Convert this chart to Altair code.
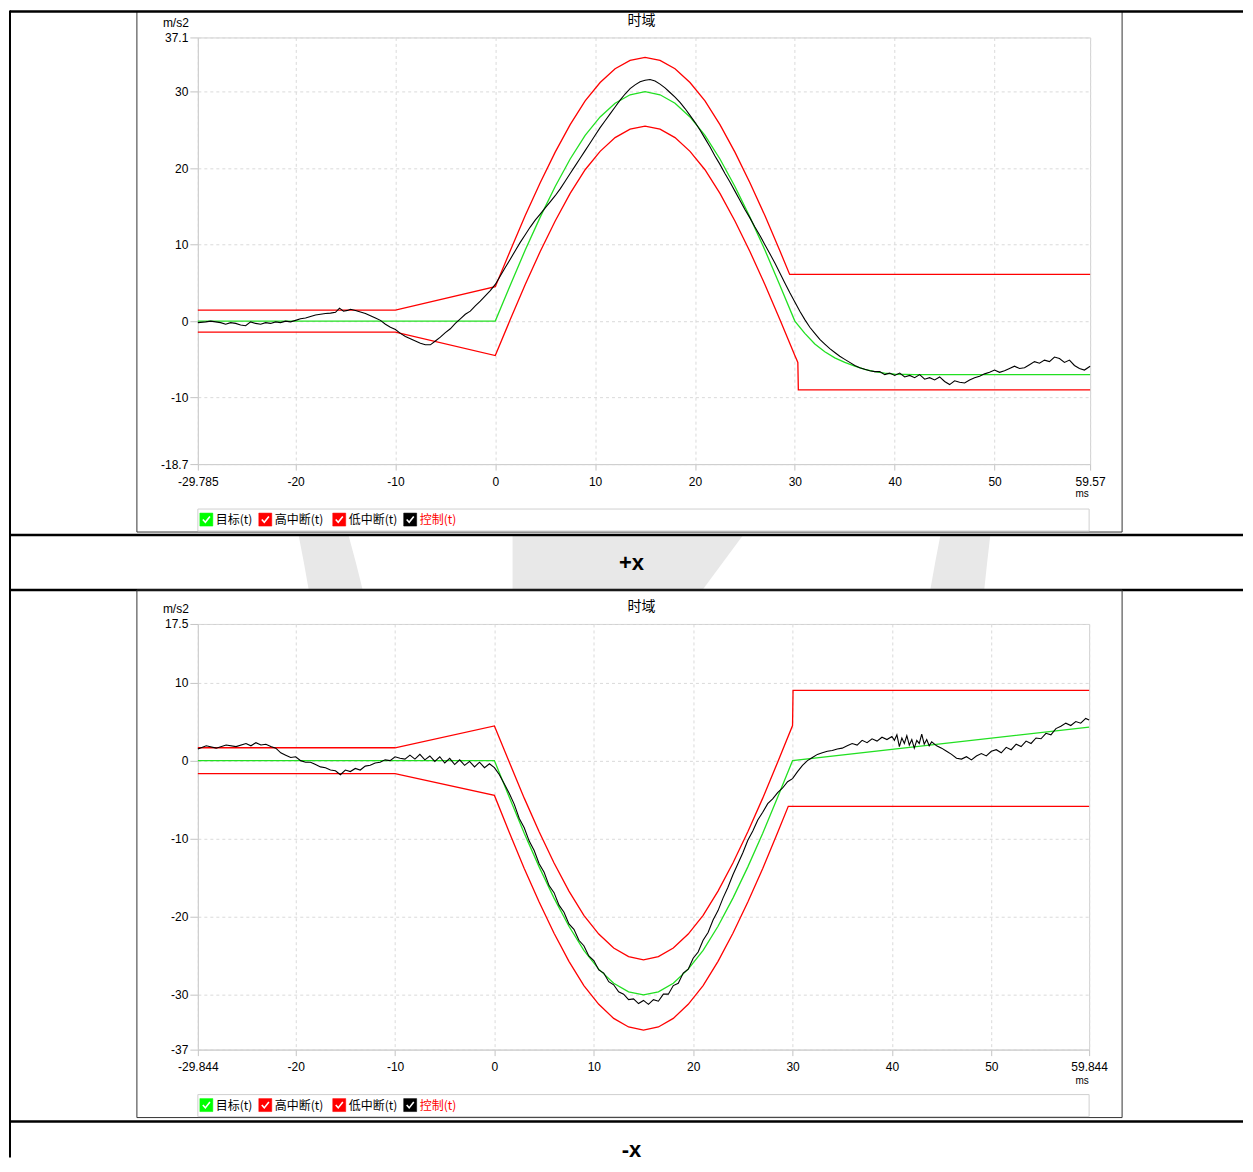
import altair as alt
import pandas as pd

# ------------------------------------------------------------------ data
# +x  (t in ms, value in m/s2)
pos_target = [(-29.785, 0), (0, 0), (1.5, 4.7), (3, 9.3), (4.5, 13.6), (6, 17.6), (7.5, 21.2),
              (9, 24.3), (10.5, 26.7), (12, 28.5), (13.5, 29.6), (15, 30.0), (16.5, 29.6),
              (18, 28.5), (19.5, 26.7), (21, 24.3), (22.5, 21.2), (24, 17.6), (25.5, 13.6),
              (27, 9.3), (28.5, 4.7), (30, 0), (31, -1.6), (32, -3.0), (33, -4.0), (34, -4.8),
              (35, -5.4), (36, -5.9), (37, -6.3), (38, -6.6), (39, -6.8), (40, -6.95),
              (42, -7.0), (59.57, -7.0)]
pos_high = [(-29.785, 1.45), (-10, 1.45), (0, 4.5), (1.5, 9.2), (3, 13.8), (4.5, 18.1), (6, 22.1),
            (7.5, 25.7), (9, 28.8), (10.5, 31.2), (12, 33.0), (13.5, 34.1), (15, 34.5),
            (16.5, 34.1), (18, 33.0), (19.5, 31.2), (21, 28.8), (22.5, 25.7), (24, 22.1),
            (25.5, 18.1), (27, 13.8), (28.5, 9.2), (29.48, 6.1), (59.57, 6.1)]
pos_low = [(-29.785, -1.45), (-10, -1.45), (0, -4.5), (1.5, 0.2), (3, 4.8), (4.5, 9.1), (6, 13.1),
           (7.5, 16.7), (9, 19.8), (10.5, 22.2), (12, 24.0), (13.5, 25.1), (15, 25.5),
           (16.5, 25.1), (18, 24.0), (19.5, 22.2), (21, 19.8), (22.5, 16.7), (24, 13.1),
           (25.5, 9.1), (27, 4.8), (28.5, 0.2), (30, -4.5), (30.3, -5.4), (30.35, -9.0),
           (59.57, -9.0)]
pos_ctrl = [(-29.785, -0.2), (-29, -0.1), (-28.5, 0.0), (-28, -0.1), (-27.5, -0.2), (-27, -0.4),
            (-26.5, -0.2), (-26, -0.3), (-25.5, -0.5), (-25, -0.6), (-24.5, -0.1), (-24, -0.3),
            (-23.5, -0.4), (-23, -0.2), (-22.5, -0.3), (-22, -0.1), (-21.5, -0.2), (-21, 0.0),
            (-20.5, -0.1), (-20, 0.1), (-19.5, 0.3), (-19, 0.4), (-18.5, 0.6), (-18, 0.8),
            (-17.5, 0.9), (-17, 1.0), (-16.5, 1.05), (-16, 1.15), (-15.6, 1.7), (-15.2, 1.3),
            (-14.8, 1.4), (-14.5, 1.55), (-14, 1.4), (-13.5, 1.2), (-13, 1.0), (-12.5, 0.7),
            (-12, 0.4), (-11.5, 0.1), (-11, -0.4), (-10.5, -0.8), (-10, -1.1), (-9.5, -1.6),
            (-9, -2.0), (-8.5, -2.3), (-8, -2.6), (-7.5, -2.9), (-7, -3.1), (-6.5, -3.1),
            (-6, -2.6), (-5.5, -2.1), (-5, -1.5), (-4.5, -1.0), (-4, -0.3), (-3.5, 0.3),
            (-3, 0.9), (-2.5, 1.3), (-2, 2.0), (-1.5, 2.6), (-1, 3.3), (-0.5, 4.0), (0, 4.8),
            (0.5, 5.9), (1, 7.0), (1.5, 8.1), (2, 9.2), (2.5, 10.3), (3, 11.3), (3.5, 12.3),
            (4, 13.2), (4.5, 14.0), (5, 14.8), (5.5, 15.6), (6, 16.4), (6.5, 17.3), (7, 18.3),
            (7.5, 19.3), (8, 20.3), (8.5, 21.3), (9, 22.3), (9.5, 23.3), (10, 24.3), (10.5, 25.3),
            (11, 26.2), (11.5, 27.1), (12, 28.0), (12.5, 28.9), (13, 29.7), (13.5, 30.4),
            (14, 30.9), (14.5, 31.3), (15, 31.5), (15.5, 31.6), (16, 31.4), (16.5, 31.0),
            (17, 30.5), (17.5, 29.9), (18, 29.3), (18.5, 28.6), (19, 27.8), (19.5, 26.9),
            (20, 26.0), (20.5, 25.0), (21, 23.9), (21.5, 22.8), (22, 21.6), (22.5, 20.5),
            (23, 19.3), (23.5, 18.2), (24, 17.0), (24.5, 15.8), (25, 14.6), (25.5, 13.5),
            (26, 12.3), (26.5, 11.2), (27, 10.0), (27.5, 8.8), (28, 7.6), (28.5, 6.3), (29, 5.0),
            (29.5, 3.7), (30, 2.5), (30.5, 1.3), (31, 0.2), (31.5, -0.8), (32, -1.6), (32.5, -2.4),
            (33, -3.0), (33.5, -3.6), (34, -4.1), (34.5, -4.6), (35, -5.0), (35.5, -5.4),
            (36, -5.8), (36.5, -6.1), (37, -6.3), (37.5, -6.5), (38, -6.6), (38.5, -6.6),
            (39, -7.0), (39.5, -6.8), (40, -7.1), (40.5, -6.8), (41, -7.3), (41.5, -7.1),
            (42, -7.4), (42.5, -7.0), (43, -7.6), (43.5, -7.4), (44, -7.7), (44.5, -7.3),
            (45, -7.9), (45.5, -8.3), (46, -7.8), (46.5, -8.0), (47, -8.1), (47.5, -7.7),
            (48, -7.4), (48.5, -7.2), (49, -6.9), (49.5, -6.7), (50, -6.4), (50.5, -6.7),
            (51, -6.5), (51.5, -6.2), (52, -5.9), (52.5, -6.2), (53, -6.1), (53.5, -5.7),
            (54, -5.3), (54.5, -5.5), (55, -5.1), (55.5, -5.3), (56, -4.7), (56.5, -4.9),
            (57, -5.4), (57.5, -5.1), (58, -5.8), (58.5, -6.2), (59, -6.4), (59.57, -5.9)]

# -x
neg_target = [(-29.844, 0), (0, 0), (1.5, -4.7), (3, -9.3), (4.5, -13.6), (6, -17.6), (7.5, -21.2),
              (9, -24.3), (10.5, -26.7), (12, -28.5), (13.5, -29.6), (15, -30.0), (16.5, -29.6),
              (18, -28.5), (19.5, -26.7), (21, -24.3), (22.5, -21.2), (24, -17.6), (25.5, -13.6),
              (27, -9.3), (28.5, -4.7), (30, 0), (59.844, 4.3)]
neg_high = [(-29.844, 1.65), (-10, 1.65), (0, 4.45), (1.5, -0.2), (3, -4.8), (4.5, -9.1), (6, -13.1),
            (7.5, -16.7), (9, -19.8), (10.5, -22.2), (12, -24.0), (13.5, -25.1), (15, -25.5),
            (16.5, -25.1), (18, -24.0), (19.5, -22.2), (21, -19.8), (22.5, -16.7), (24, -13.1),
            (25.5, -9.1), (27, -4.8), (28.5, -0.2), (30, 4.5), (30.05, 9.0), (59.844, 9.0)]
neg_low = [(-29.844, -1.65), (-10, -1.65), (0, -4.45), (1.5, -9.2), (3, -13.8), (4.5, -18.1),
           (6, -22.1), (7.5, -25.7), (9, -28.8), (10.5, -31.2), (12, -33.0), (13.5, -34.1),
           (15, -34.5), (16.5, -34.1), (18, -33.0), (19.5, -31.2), (21, -28.8), (22.5, -25.7),
           (24, -22.1), (25.5, -18.1), (27, -13.8), (28.5, -9.2), (29.57, -5.85), (59.844, -5.85)]
neg_ctrl = [(-29.844, 1.5), (-29, 1.9), (-28, 1.6), (-27, 2.0), (-26, 1.8), (-25, 2.2), (-24.5, 1.9),
            (-24, 2.3), (-23.5, 2.0), (-23, 2.1), (-22.5, 1.8), (-22, 1.6), (-21.5, 1.0),
            (-21, 0.7), (-20.5, 0.4), (-20, 0.5), (-19.5, 0.0), (-19, -0.2), (-18.5, -0.2),
            (-18, -0.5), (-17.5, -0.8), (-17, -0.9), (-16.5, -1.2), (-16, -1.3), (-15.5, -1.8),
            (-15, -1.2), (-14.5, -1.4), (-14, -1.0), (-13.5, -1.2), (-13, -0.7), (-12.5, -0.6),
            (-12, -0.3), (-11.5, -0.2), (-11, 0.1), (-10.5, 0.0), (-10, 0.5), (-9.5, 0.3),
            (-9, 0.2), (-8.5, 0.7), (-8, 0.2), (-7.5, 0.8), (-7, 0.1), (-6.5, 0.6), (-6, -0.1),
            (-5.5, 0.5), (-5, -0.3), (-4.5, 0.3), (-4, -0.5), (-3.5, 0.1), (-3, -0.6),
            (-2.5, -0.1), (-2, -0.8), (-1.5, -0.2), (-1, -0.9), (-0.5, -0.4), (0, -0.9),
            (0.5, -1.8), (1, -3.0), (1.5, -4.2), (2, -5.6), (2.5, -7.4), (3, -8.6), (3.5, -10.3),
            (4, -11.5), (4.5, -13.2), (5, -14.3), (5.5, -16.0), (6, -16.9), (6.5, -18.5),
            (7, -19.4), (7.5, -20.9), (8, -21.6), (8.5, -23.0), (9, -23.7), (9.5, -25.0),
            (10, -25.6), (10.5, -26.8), (11, -27.2), (11.5, -28.3), (12, -28.7), (12.5, -29.6),
            (13, -29.9), (13.5, -30.6), (14, -30.5), (14.5, -31.1), (15, -30.7), (15.5, -31.2),
            (16, -30.6), (16.5, -30.8), (17, -29.9), (17.5, -29.9), (18, -28.8), (18.5, -28.5),
            (19, -27.2), (19.5, -26.7), (20, -25.3), (20.5, -24.5), (21, -23.0), (21.5, -22.0),
            (22, -20.4), (22.5, -19.2), (23, -17.6), (23.5, -16.2), (24, -14.6), (24.5, -13.2),
            (25, -11.8), (25.5, -10.2), (26, -9.0), (26.5, -7.6), (27, -6.6), (27.5, -5.5),
            (28, -4.9), (28.5, -4.1), (29, -3.5), (29.5, -2.7), (30, -2.3), (30.5, -1.4),
            (31, -0.6), (31.5, 0.0), (32, 0.4), (32.5, 0.8), (33, 1.0), (33.5, 1.2), (34, 1.3),
            (34.5, 1.5), (35, 1.6), (35.5, 1.9), (36, 2.2), (36.5, 2.0), (37, 2.6), (37.5, 2.3),
            (38, 2.8), (38.5, 2.5), (39, 3.0), (39.5, 2.7), (40, 3.1), (40.25, 2.6), (40.5, 3.3),
            (40.75, 1.8), (41, 2.9), (41.25, 2.2), (41.5, 3.2), (41.75, 2.0), (42, 2.7),
            (42.25, 1.6), (42.5, 2.6), (42.75, 2.2), (43, 3.4), (43.25, 2.1), (43.5, 2.7),
            (43.75, 1.9), (44, 2.4), (44.5, 1.9), (45, 1.6), (45.5, 1.2), (46, 0.8), (46.5, 0.3),
            (47, 0.2), (47.5, 0.5), (48, 0.1), (48.5, 0.6), (49, 0.9), (49.5, 0.6), (50, 1.2),
            (50.5, 1.4), (51, 1.0), (51.5, 1.7), (52, 1.4), (52.5, 2.1), (53, 1.8), (53.5, 2.5),
            (54, 2.2), (54.5, 2.9), (55, 2.8), (55.5, 3.5), (56, 3.3), (56.5, 4.1), (57, 4.4),
            (57.5, 4.8), (58, 4.5), (58.5, 5.0), (59, 4.8), (59.5, 5.4), (59.844, 5.2)]

pos_xticks = [-29.785, -20, -10, 0, 10, 20, 30, 40, 50, 59.57]
pos_yticks = [-18.7, -10, 0, 10, 20, 30, 37.1]
neg_xticks = [-29.844, -20, -10, 0, 10, 20, 30, 40, 50, 59.844]
neg_yticks = [-37, -30, -20, -10, 0, 10, 17.5]

legend_labels = ["目标(t)", "高中断(t)", "低中断(t)", "控制(t)"]
legend_box_colors = ["#00ff00", "#ff0000", "#ff0000", "#000000"]
legend_text_colors = ["#000000", "#000000", "#000000", "#ff0000"]
row_labels = ["+x", "-x"]

GREEN = "#22e022"
RED = "#ff0000"
BLACK = "#000000"

# ------------------------------------------------------------------ layout helpers
FONT = "Liberation Sans"
CJK = "Noto Sans CJK SC"
ONE = alt.Data(values=[{"k": 0}])
LEG_X = [2, 61, 135, 206]
TOP = -26     # table top line (relative to panel-1 plot origin)
LEFT = -188   # table left line


def hline(x1, x2, y, color="black", w=2.5):
    return alt.Chart(ONE).mark_rule(color=color, strokeWidth=w).encode(
        x=alt.value(x1), x2=alt.value(x2), y=alt.value(y))


def vline(x, y1, y2, color="black", w=2):
    return alt.Chart(ONE).mark_rule(color=color, strokeWidth=w).encode(
        x=alt.value(x), y=alt.value(y1), y2=alt.value(y2))


def box(x1, x2, y1, y2, stroke, fill=None, w=1):
    kw = dict(stroke=stroke, strokeWidth=w)
    if fill is None:
        kw["fillOpacity"] = 0
        kw["fill"] = "white"
    else:
        kw["fill"] = fill
    return alt.Chart(ONE).mark_rect(**kw).encode(
        x=alt.value(x1), x2=alt.value(x2), y=alt.value(y1), y2=alt.value(y2))


def label(txt, x, y, size=12, font=FONT, color="black", align="center", weight="normal"):
    return alt.Chart(ONE).mark_text(text=txt, font=font, fontSize=size, color=color,
                                    align=align, baseline="middle", fontWeight=weight).encode(
        x=alt.value(x), y=alt.value(y))


def shape(path, fill):
    return alt.Chart(ONE).mark_point(shape=path, size=4, filled=True, fill=fill,
                                     strokeWidth=0, opacity=1).encode(
        x=alt.value(0), y=alt.value(0))


def legend(y0):
    out = [box(0, 892, y0, y0 + 22, "#d0d0d0")]
    for lx, lab, bc, tc in zip(LEG_X, legend_labels, legend_box_colors, legend_text_colors):
        out.append(box(lx, lx + 13, y0 + 4, y0 + 17, bc, fill=bc, w=0.5))
        out.append(alt.Chart(ONE).mark_point(shape="M-3.5,0L-1,2.8L3.6,-3", size=4, filled=False,
                                             color="white", strokeWidth=1.6, opacity=1).encode(
            x=alt.value(lx + 6.5), y=alt.value(y0 + 10.5)))
        out.append(label(lab, lx + 16, y0 + 11, size=12, font=CJK, color=tc, align="left"))
    return out


def panel(series, xdom, ydom, xvals, yvals, W, H, under, over):
    xe = alt.X("t:Q", scale=alt.Scale(domain=xdom, nice=False, zero=False),
               axis=alt.Axis(values=xvals, labelExpr="toString(datum.value)", title=None,
                             grid=True, gridColor="#dadada", gridDash=[3, 3],
                             domainColor="#cfcfcf", tickColor="#c4c4c4", tickSize=6,
                             labelPadding=6, labelFont=FONT, labelFontSize=12,
                             labelColor="black", labelFlush=False, labelOverlap=False))
    ye = alt.Y("v:Q", scale=alt.Scale(domain=ydom, nice=False, zero=False),
               axis=alt.Axis(values=yvals, labelExpr="toString(datum.value)", title=None,
                             grid=True, gridColor="#dadada", gridDash=[3, 3],
                             domainColor="#cfcfcf", tickColor="#c4c4c4", tickSize=8,
                             labelPadding=2, labelFont=FONT, labelFontSize=12,
                             labelColor="black", labelFlush=False, labelOverlap=False))
    lines = []
    for pairs, color, w in series:
        df = pd.DataFrame(pairs, columns=["t", "v"])
        lines.append(alt.Chart(df).mark_line(color=color, strokeWidth=w).encode(x=xe, y=ye))
    return alt.layer(*under, *lines, *over).properties(width=W, height=H)


# ---------- panel 1 (+x) : origin at page (197, 37)
wm = [
    shape("M101,499L151,499L158,525L165,553L111,553L106,525Z", "#e8e8e8"),
    shape("M315,499L545,499L505,553L315,553Z", "#e8e8e8"),
    shape("M743,499L793,499L790,525L787,553L733,553L738,525Z", "#e8e8e8"),
]
deco1 = [
    box(-61, 925, TOP, 495, "#333333"),
    *legend(472),
    label("时域", 444, -16, size=14, font=CJK),
    label("m/s2", -22, -14, size=12),
    label("ms", 885, 457, size=10),
    hline(LEFT, 1046, TOP),
    hline(LEFT, 1046, 498),
    hline(LEFT, 1046, 553),
    hline(LEFT, 1046, 1085),
    vline(LEFT, TOP - 1, 1121),
    label(row_labels[0], 434, 526, size=22, weight="bold"),
    label(row_labels[1], 434, 1113, size=22, weight="bold"),
]
p1 = panel([(pos_target, GREEN, 1.3), (pos_high, RED, 1.3), (pos_low, RED, 1.3), (pos_ctrl, BLACK, 1.1)],
           [-29.785, 59.57], [-18.7, 37.1], pos_xticks, pos_yticks, 893, 427, wm, deco1)

# ---------- panel 2 (-x) : origin at page (197, 624)
deco2 = [
    box(-61, 925, -34, 494, "#333333"),
    *legend(471),
    label("时域", 444, -17, size=14, font=CJK),
    label("m/s2", -22, -15, size=12),
    label("ms", 885, 457, size=10),
]
p2 = panel([(neg_target, GREEN, 1.3), (neg_high, RED, 1.3), (neg_low, RED, 1.3), (neg_ctrl, BLACK, 1.1)],
           [-29.844, 59.844], [-37, 17.5], neg_xticks, neg_yticks, 892, 426, [], deco2)

chart = alt.vconcat(p1, p2, spacing=160, bounds="flush", padding=0).configure_view(
    stroke="#d0d0d0", strokeWidth=1)

chart.save("out.html", embed_options={"renderer": "svg", "actions": False})
